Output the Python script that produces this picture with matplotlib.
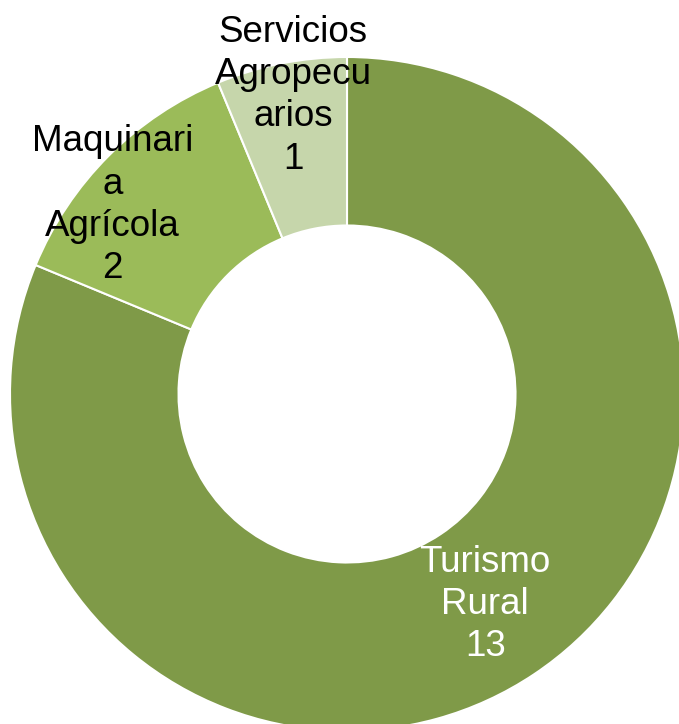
import matplotlib
matplotlib.use('Agg')
import matplotlib.pyplot as plt

categories = ['Turismo\nRural', 'Maquinari\na\nAgrícola', 'Servicios\nAgropecu\narios']
values = [13, 2, 1]
colors = ['#7F9A48', '#9BBB59', '#C6D6AB']
label_pos = [(0.41, -0.625), (-0.695, 0.56), (-0.16, 0.885)]
label_colors = ['white', 'black', 'black']

plt.rcParams['font.family'] = ['Liberation Sans', 'DejaVu Sans']

fig = plt.figure(figsize=(6.79, 7.24), dpi=100)
# circle centre at about (347, 394) px, radius 337 px
cx, cy, r = 347 / 679, 1 - 394 / 724, 337
ax = fig.add_axes([cx - r / 679, cy - r / 724, 2 * r / 679, 2 * r / 724])

ax.pie(values, colors=colors, startangle=90, counterclock=False,
       radius=1.0, wedgeprops=dict(width=0.5, edgecolor='white', linewidth=1.5))
ax.set_xlim(-1, 1)
ax.set_ylim(-1, 1)
ax.set_aspect('auto')

for name, v, (x, y), c in zip(categories, values, label_pos, label_colors):
    ax.text(x, y, f'{name}\n{v}', ha='center', va='center', fontsize=26.5,
            color=c, linespacing=1.27)

fig.savefig('out.png', dpi=100)
